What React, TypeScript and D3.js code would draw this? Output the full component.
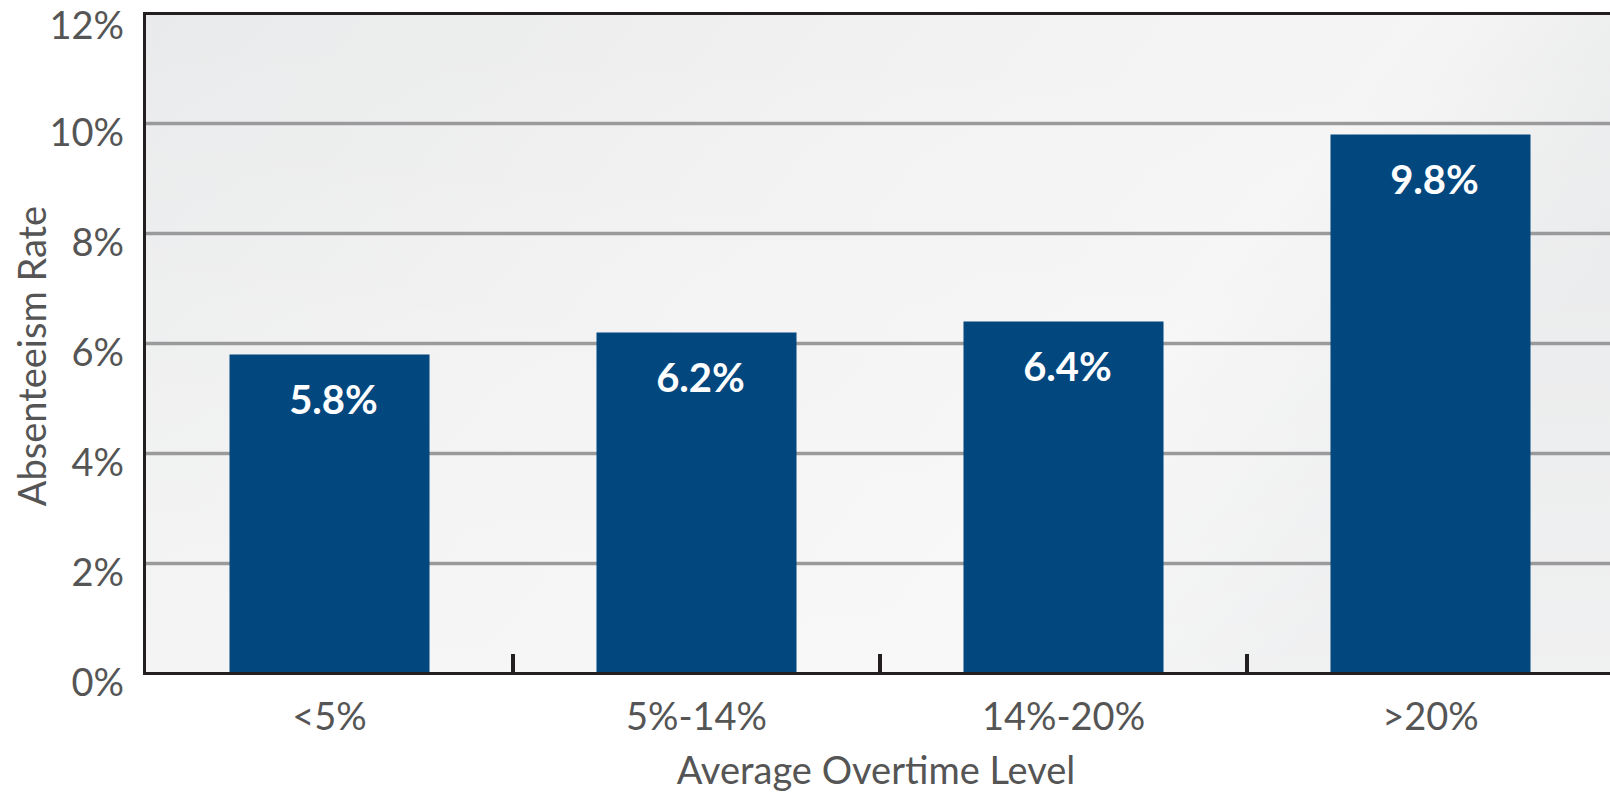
import * as d3 from 'd3'

const categories = ['<5%', '5%-14%', '14%-20%', '>20%']
const rates = [5.8, 6.2, 6.4, 9.8]
const yTicks = [0, 2, 4, 6, 8, 10, 12]

const W = 1610
const H = 794
const FONT = "'Century Gothic', Lato, 'Open Sans', sans-serif"

const App = () => {
  const x = d3.scaleBand<string>()
    .domain(categories)
    .range([146, 1614])
    .paddingInner(0.455)
    .paddingOuter(0.2275)

  const y = d3.scaleLinear().domain([0, 12]).range([673.5, 13.5])
  const step = x.step()
  const fmt = (v: number) => `${v}%`

  // tick marks between the bars
  const sepTicks = categories.slice(1).map(c => (x(c) || 0) - (step - x.bandwidth()) / 2)

  return (
    <svg width={W} height={H} style={{ position: 'absolute', left: 0, top: 0, background: '#fff' }}>
      <defs>
        <linearGradient id="bg" x1="0" y1="0" x2="1" y2="0.35">
          <stop offset="0" stopColor="#e9eaeb" />
          <stop offset="0.45" stopColor="#f1f1f1" />
          <stop offset="0.78" stopColor="#f5f5f5" />
          <stop offset="1" stopColor="#e8e9ea" />
        </linearGradient>
        <linearGradient id="bgv" x1="0" y1="0" x2="0" y2="1">
          <stop offset="0" stopColor="#ffffff" stopOpacity="0" />
          <stop offset="1" stopColor="#ffffff" stopOpacity="0.35" />
        </linearGradient>
      </defs>

      <rect x={146} y={y(12)} width={W - 146} height={y(0) - y(12)} fill="url(#bg)" />
      <rect x={146} y={y(12)} width={W - 146} height={y(0) - y(12)} fill="url(#bgv)" />

      {/* gridlines */}
      {yTicks.filter(t => t > 0 && t < 12).map(t => (
        <line key={t} x1={146} x2={W} y1={y(t)} y2={y(t)} stroke="#9a9a9c" strokeWidth={3.5} />
      ))}

      {/* bars */}
      {categories.map((c, i) => (
        <rect key={c} x={x(c)} y={y(rates[i])} width={x.bandwidth()} height={y(0) - y(rates[i])} fill="#03477f" />
      ))}

      {/* bar value labels */}
      {categories.map((c, i) => (
        <text key={c} x={(x(c) || 0) + x.bandwidth() / 2 + 4} y={y(rates[i]) + 59}
          textAnchor="middle" fill="#fff" fontFamily={FONT} fontWeight={700} fontSize={40}>
          {rates[i].toFixed(1)}%
        </text>
      ))}

      {/* frame: left, top, bottom */}
      <line x1={144.5} x2={144.5} y1={12} y2={675} stroke="#231f20" strokeWidth={3} />
      <line x1={143} x2={W} y1={13.5} y2={13.5} stroke="#231f20" strokeWidth={3} />
      <line x1={143} x2={W} y1={y(0)} y2={y(0)} stroke="#231f20" strokeWidth={3} />

      {sepTicks.map((t, i) => (
        <line key={i} x1={t} x2={t} y1={654} y2={y(0)} stroke="#231f20" strokeWidth={4} />
      ))}

      {/* y tick labels */}
      {yTicks.map(t => (
        <text key={t} x={124} y={Math.max(y(t) + 22, 39)} textAnchor="end" fill="#555"
          fontFamily={FONT} fontSize={38}>
          {fmt(t)}
        </text>
      ))}

      {/* x category labels */}
      {categories.map(c => (
        <text key={c} x={(x(c) || 0) + x.bandwidth() / 2} y={730} textAnchor="middle"
          fill="#555" fontFamily={FONT} fontSize={38}>
          {c}
        </text>
      ))}

      <text x={876} y={784} textAnchor="middle" fill="#555" fontFamily={FONT} fontSize={38}>
        Average Overtime Level
      </text>
      <text transform="translate(46,356) rotate(-90)" textAnchor="middle" fill="#555"
        fontFamily={FONT} fontSize={38}>
        Absenteeism Rate
      </text>
    </svg>
  )
}

export default App
